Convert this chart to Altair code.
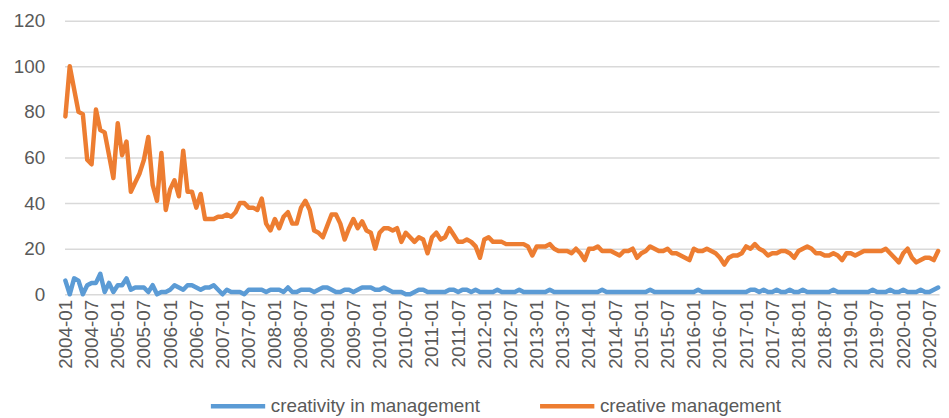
import altair as alt
import pandas as pd

# Monthly categories 2004-01 .. 2020-09
months = [f"{y}-{m:02d}" for y in range(2004, 2021) for m in range(1, 13)][:201]
tick_labels = months[::6]

series_names = ["creativity in management", "creative management"]
series_colors = ["#5b9bd5", "#ed7d31"]

creative_management = [
    78, 100, 90, 80, 79, 59, 57, 81, 72, 71, 61, 51, 75, 61, 67, 45, 49, 53, 59, 69,
    48, 41, 62, 37, 46, 50, 43, 63, 45, 45, 38, 44, 33,
    33, 33, 34, 34, 35, 34, 36, 40, 40, 38, 38, 37, 42, 31, 28, 33, 29, 34, 36, 31,
    31, 38, 41, 37, 28, 27, 25, 30, 35, 35, 31, 24, 29,
    33, 29, 32, 28, 27, 20, 27, 29, 29, 28, 29, 23, 27, 25, 23, 25, 24, 18, 25, 27,
    24, 25, 29, 26, 23, 23, 24, 23, 21, 16, 24, 25, 23,
    23, 23, 22, 22, 22, 22, 22, 21, 17, 21, 21, 21, 22, 20, 19, 19, 19, 18, 20, 18,
    15, 20, 20, 21, 19, 19, 19, 18, 17, 19, 19, 20, 16,
    18, 19, 21, 20, 19, 19, 20, 18, 18, 17, 16, 15, 20, 19, 19, 20, 19, 18, 16, 13,
    16, 17, 17, 18, 21, 20, 22, 20, 19, 17, 18, 18, 19,
    19, 18, 16, 19, 20, 21, 20, 18, 18, 17, 17, 18, 17, 15, 18, 18, 17, 18, 19, 19,
    19, 19, 19, 20, 18, 16, 14, 18, 20, 16, 14, 15, 16, 16, 15, 19,
]

creativity_in_management = [
    6, 0, 7, 6, 0, 4, 5, 5, 9, 1, 5, 1, 4, 4, 7, 2, 3, 3, 3, 1,
    4, 0, 1, 1, 2, 4, 3, 2, 4, 4, 3, 2, 3,
    3, 4, 2, 0, 2, 1, 1, 1, 0, 2, 2, 2, 2, 1, 2, 2, 2, 1, 3, 1,
    1, 2, 2, 2, 1, 2, 3, 3, 2, 1, 1, 2, 2,
    1, 2, 3, 3, 3, 2, 2, 3, 2, 1, 1, 1, 0, 0, 1, 2, 2, 1, 1, 1,
    1, 1, 2, 2, 1, 2, 2, 1, 2, 1, 1, 1, 1,
    2, 1, 1, 1, 1, 2, 1, 1, 1, 1, 1, 1, 2, 1, 1, 1, 1, 1, 1, 1,
    1, 1, 1, 1, 2, 1, 1, 1, 1, 1, 1, 1, 1,
    1, 1, 2, 1, 1, 1, 1, 1, 1, 1, 1, 1, 1, 2, 1, 1, 1, 1, 1, 1,
    1, 1, 1, 1, 1, 2, 2, 1, 2, 1, 1, 2, 1,
    1, 2, 1, 1, 2, 1, 1, 1, 1, 1, 1, 2, 1, 1, 1, 1, 1, 1, 1, 1,
    2, 1, 1, 1, 2, 1, 1, 2, 1, 1, 1, 2, 1, 1, 2, 3,
]

rows = []
for name, vals in zip(series_names, [creativity_in_management, creative_management]):
    for m, v in zip(months, vals):
        rows.append({"month": m, "series": name, "value": v})
df = pd.DataFrame(rows)

grey = "#595959"
font = "Liberation Sans"

chart = (
    alt.Chart(df)
    .mark_line(strokeWidth=4.5, strokeJoin="round", strokeCap="round")
    .encode(
        x=alt.X(
            "month:O",
            sort=months,
            scale=alt.Scale(type="point", padding=0.2),
            axis=alt.Axis(
                values=tick_labels,
                labelAngle=270,
                labelFontSize=19,
                labelColor=grey,
                labelPadding=5,
                ticks=False,
                domain=False,
                grid=False,
                title=None,
                labelOverlap=False,
            ),
        ),
        y=alt.Y(
            "value:Q",
            scale=alt.Scale(domain=[0, 120], nice=False),
            axis=alt.Axis(
                values=[0, 20, 40, 60, 80, 100, 120],
                labelFontSize=19,
                labelColor=grey,
                labelPadding=20,
                ticks=False,
                domain=False,
                grid=True,
                gridColor="#d9d9d9",
                gridWidth=1.5,
                title=None,
            ),
        ),
        color=alt.Color(
            "series:N",
            sort=series_names,
            scale=alt.Scale(domain=series_names, range=series_colors),
            legend=alt.Legend(
                orient="none",
                legendX=145,
                legendY=359,
                direction="horizontal",
                title=None,
                symbolType="stroke",
                symbolStrokeWidth=4.5,
                symbolSize=3000,
                labelFontSize=19,
                labelColor=grey,
                labelLimit=400,
                labelOffset=3,
                columnPadding=50,
            ),
        ),
        order=alt.Order("series:N"),
    )
    .properties(
        width=882,
        height=276,
        padding={"left": 5, "top": 2, "right": 0, "bottom": 0},
    )
    .configure(font=font)
    .configure_view(stroke=None)
)

chart.save("out.html", embed_options={"renderer": "svg", "actions": False})
